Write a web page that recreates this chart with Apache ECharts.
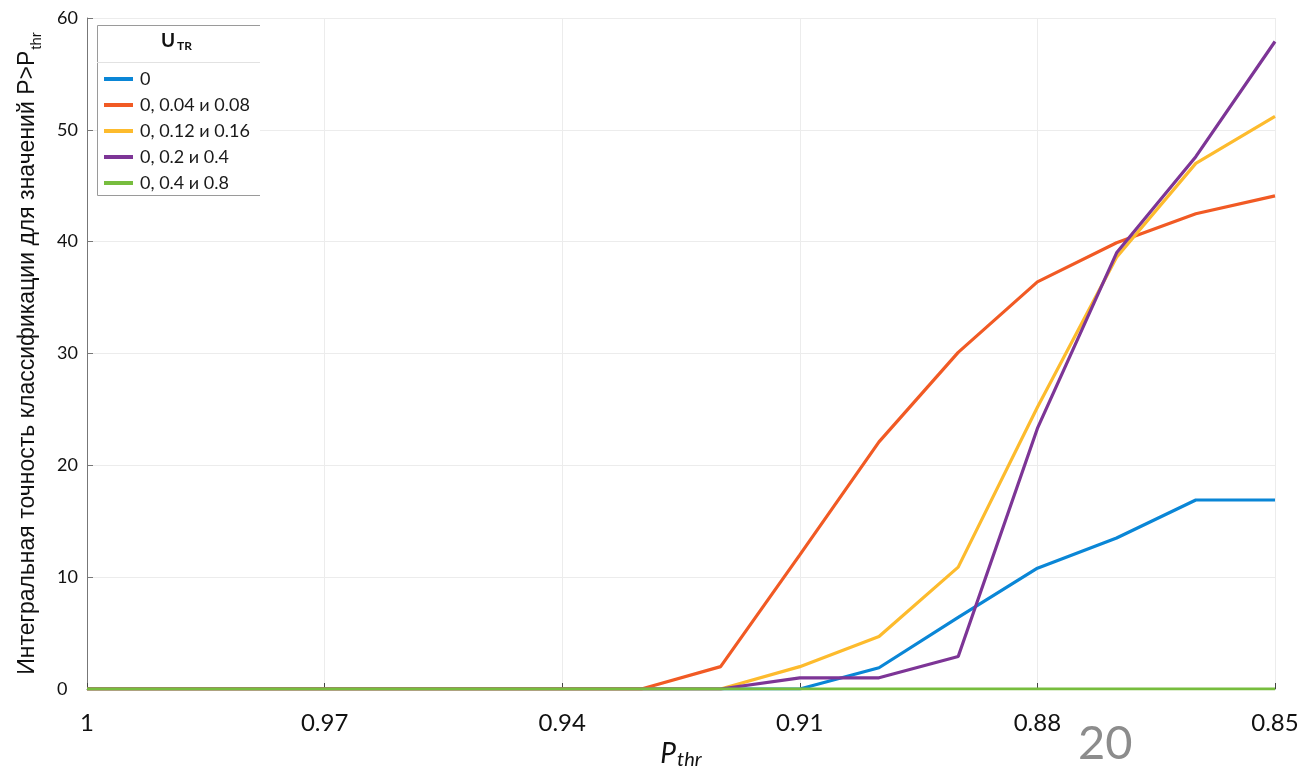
<!DOCTYPE html>
<html>
<head>
<meta charset="utf-8">
<script src="https://cdn.jsdelivr.net/npm/echarts@6/dist/echarts.min.js"></script>
<style>
  html, body { margin: 0; padding: 0; background: #fff; }
  #chart { width: 1311px; height: 768px; }
</style>
</head>
<body>
<div id="chart"></div>
<script>
// P_thr values, left to right (axis runs from 1 down to 0.85)
const categories = ['1', '0.99', '0.98', '0.97', '0.96', '0.95', '0.94', '0.93',
  '0.92', '0.91', '0.90', '0.89', '0.88', '0.87', '0.86', '0.85'];
const xTickLabels = ['1', '0.97', '0.94', '0.91', '0.88', '0.85'];
const yTicks = [0, 10, 20, 30, 40, 50, 60];

const seriesNames = ['0', '0, 0.04 и 0.08', '0, 0.12 и 0.16', '0, 0.2 и 0.4', '0, 0.4 и 0.8'];
const seriesColors = ['#0a86d6', '#f15a24', '#fdbb2d', '#7d3596', '#77bd3e'];

const u0 = [0, 0, 0, 0, 0, 0, 0, 0, 0, 0, 1.9, 6.4, 10.8, 13.5, 16.9, 16.9];
const u004 = [0, 0, 0, 0, 0, 0, 0, 0, 2.0, 12.0, 22.1, 30.1, 36.4, 39.9, 42.5, 44.1];
const u012 = [0, 0, 0, 0, 0, 0, 0, 0, 0, 2.0, 4.7, 10.9, 25.2, 38.6, 47.0, 51.2];
const u02 = [0, 0, 0, 0, 0, 0, 0, 0, 0, 1.0, 1.0, 2.9, 23.3, 39.0, 47.6, 57.9];
const u04 = [0, 0, 0, 0, 0, 0, 0, 0, 0, 0, 0, 0, 0, 0, 0, 0];
const seriesData = [u0, u004, u012, u02, u04];

const chart = echarts.init(document.getElementById('chart'));

const option = {
  animation: false,
  textStyle: { fontFamily: 'Lato' },
  grid: { left: 87, right: 36, top: 18, bottom: 79, containLabel: false, outerBoundsMode: 'none' },
  legend: {
    orient: 'vertical',
    left: 99,
    top: 64,
    z: 10,
    icon: 'rect',
    itemWidth: 29,
    itemHeight: 4,
    itemGap: 6,
    textStyle: { fontFamily: 'Lato', fontSize: 18, lineHeight: 20, color: '#1a1a1a', padding: [0, 0, 0, 2] },
    data: seriesNames
  },
  graphic: [
    { type: 'rect', z: 5, shape: { x: 97, y: 25, width: 163, height: 171 }, style: { fill: '#fff' } },
    { type: 'polyline', z: 6, shape: { points: [[260, 25.5], [97.5, 25.5], [97.5, 195.5], [260, 195.5]] },
      style: { stroke: '#9a9a9a', lineWidth: 1, fill: null } },
    { type: 'line', z: 6, shape: { x1: 97, y1: 62.5, x2: 260, y2: 62.5 }, style: { stroke: '#e2e2e2', lineWidth: 1 } },
    { type: 'text', z: 6, left: 161, top: 31,
      style: {
        text: '{b|U}{s|TR}',
        rich: {
          b: { fontFamily: 'Lato', fontSize: 19, fontWeight: 'bold', fill: '#111', lineHeight: 24, verticalAlign: 'middle' },
          s: { fontFamily: 'Lato', fontSize: 12, fontWeight: 'bold', fill: '#111', lineHeight: 24, verticalAlign: 'bottom', padding: [0, 0, 0, 2] }
        }
      } },
    { type: 'text', left: 1078, top: 720,
      style: { text: '20', fontFamily: 'Lato', fontSize: 47, fill: '#8c8c8c' } }
  ],
  xAxis: {
    type: 'category',
    data: categories,
    boundaryGap: false,
    name: '{p|P}{s|thr}',
    nameLocation: 'middle',
    nameGap: 40,
    nameTextStyle: {
      rich: {
        p: { fontFamily: 'Lato', fontStyle: 'italic', fontSize: 28, color: '#111', lineHeight: 30, verticalAlign: 'middle' },
        s: { fontFamily: 'Lato', fontStyle: 'italic', fontSize: 20, color: '#111', lineHeight: 30, verticalAlign: 'bottom', padding: [0, 0, -1, 1] }
      }
    },
    axisLine: { lineStyle: { color: '#666', width: 1 } },
    axisTick: { show: true, inside: true, length: 6, interval: 2, lineStyle: { color: '#444' } },
    axisLabel: {
      interval: 2,
      margin: 22,
      fontFamily: 'Lato',
      fontSize: 24,
      color: '#111',
      formatter: (v) => (xTickLabels.includes(v) ? v : '')
    },
    splitLine: { show: true, interval: 2, lineStyle: { color: '#ececec', width: 1 } }
  },
  yAxis: {
    type: 'value',
    min: yTicks[0],
    max: yTicks[yTicks.length - 1],
    interval: 10,
    name: '{m|Интегральная точность классификации для значений P>P}{s|thr}',
    nameLocation: 'middle',
    nameRotate: 90,
    nameGap: 45,
    nameTextStyle: {
      rich: {
        m: { fontFamily: 'Liberation Sans', fontSize: 23, color: '#111', lineHeight: 28, verticalAlign: 'middle' },
        s: { fontFamily: 'Liberation Sans', fontSize: 15, color: '#111', lineHeight: 28, verticalAlign: 'bottom', padding: [0, 0, -2, 1] }
      }
    },
    axisLine: { show: true, lineStyle: { color: '#777', width: 1 } },
    axisTick: { show: true, inside: true, length: 6, lineStyle: { color: '#777' } },
    axisLabel: { align: 'left', margin: 30, fontFamily: 'Lato', fontSize: 18, color: '#111' },
    splitLine: { show: true, lineStyle: { color: '#ececec', width: 1 } }
  },
  series: seriesNames.map((name, i) => ({
    name,
    type: 'line',
    data: seriesData[i],
    symbol: 'none',
    z: 2 + i,
    lineStyle: { width: 3.2, color: seriesColors[i] },
    itemStyle: { color: seriesColors[i] }
  }))
};

chart.setOption(option);
</script>
</body>
</html>
